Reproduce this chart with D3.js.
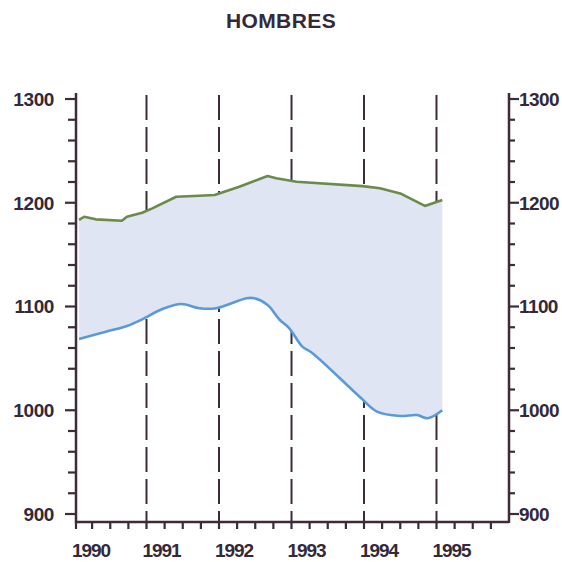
<!DOCTYPE html>
<html><head><meta charset="utf-8">
<script src="https://cdn.jsdelivr.net/npm/d3@7"></script>
<style>body{margin:0;background:#fff}svg{display:block}text{font-family:"Liberation Sans",Arial,sans-serif;font-weight:bold;fill:#33293a}</style>
</head><body><svg id="c" width="562" height="562"></svg>
<script>
const title = "HOMBRES";
const yearTicks = [1990, 1991, 1992, 1993, 1994, 1995];
const dashedYears = [1991, 1992, 1993, 1994, 1995];
const yTicks = [900, 1000, 1100, 1200, 1300];
const upperYears = [1990.07,1990.14,1990.30,1990.66,1990.73,1990.94,1991.08,1991.41,1991.73,1991.94,1992.28,1992.67,1992.79,1993.07,1993.98,1994.22,1994.50,1994.84,1995.08];
const upperValues = [1183.4,1186.5,1184,1182.7,1186.5,1190.4,1194.6,1205.8,1206.8,1207.5,1215.5,1225.8,1223.6,1220.3,1216,1213.9,1209,1196.9,1202.6];
const lowerYears = [1990.07,1990.44,1990.73,1990.94,1991.22,1991.48,1991.73,1991.96,1992.38,1992.49,1992.67,1992.84,1992.97,1993.15,1993.29,1993.94,1994.18,1994.50,1994.73,1994.88,1995.08];
const lowerValues = [1068.7,1075.7,1081.2,1087.6,1097.6,1102.4,1098.3,1098.3,1107.9,1107.9,1101.4,1087,1079,1061.3,1055,1013,998.7,994.5,995.4,992.3,1000];

const svg = d3.select("#c");
const axisCol = "#3d2b3a";
const x = d3.scaleLinear().domain([1990, 1996]).range([74, 509]);
const y = d3.scaleLinear().domain([900, 1300]).range([514, 99]);
const xLeft = 76, xRight = 509, yBase = 522, yTop = 93;

svg.append("text").attr("x", 281).attr("y", 28).attr("text-anchor", "middle")
  .style("font-size", "21px").style("letter-spacing", "0.4px").text(title);

// dashed year lines
svg.selectAll("line.dash").data(dashedYears).enter().append("line")
  .attr("x1", d => x(d)).attr("x2", d => x(d)).attr("y1", 95).attr("y2", yBase)
  .attr("stroke", axisCol).attr("stroke-width", 2).attr("stroke-dasharray", "25,7");

const upper = upperYears.map((d, i) => [d, upperValues[i]]);
const lower = lowerYears.map((d, i) => [d, lowerValues[i]]);
const line = d3.line().x(d => x(d[0])).y(d => y(d[1]));
const sline = d3.line().x(d => x(d[0])).y(d => y(d[1])).curve(d3.curveCatmullRom.alpha(0.5));
const fillPath = line(upper) + "L" + sline(lower.slice().reverse()).slice(1) + "Z";
svg.append("path").attr("d", fillPath).attr("fill", "#dfe5f3").attr("stroke", "none");
svg.append("path").attr("d", line(upper)).attr("fill", "none").attr("stroke", "#6c8a4a").attr("stroke-width", 2.6).attr("stroke-linejoin", "round");
svg.append("path").attr("d", sline(lower)).attr("fill", "none").attr("stroke", "#5a9ad8").attr("stroke-width", 2.6).attr("stroke-linejoin", "round");

// left axis
const yMinor = d3.range(900, 1301, 20);
const gl = svg.append("g").attr("transform", `translate(${xLeft},0)`);
gl.append("line").attr("x1", 0).attr("x2", 0).attr("y1", yTop).attr("y2", yBase + 1).attr("stroke", axisCol).attr("stroke-width", 2.5);
gl.selectAll("line.t").data(yMinor).enter().append("line")
  .attr("x1", d => d % 100 === 0 ? -11 : -8).attr("x2", 0)
  .attr("y1", d => y(d)).attr("y2", d => y(d)).attr("stroke", axisCol).attr("stroke-width", 2.2);
gl.selectAll("text").data(yTicks).enter().append("text")
  .attr("x", -22).attr("y", d => y(d)).attr("dy", "0.36em").attr("text-anchor", "end")
  .style("font-size", "19px").style("letter-spacing", "-0.4px").text(d => d);

// right axis
const gr = svg.append("g").attr("transform", `translate(${xRight},0)`);
gr.append("line").attr("x1", 0).attr("x2", 0).attr("y1", yTop).attr("y2", yBase + 1).attr("stroke", axisCol).attr("stroke-width", 2.5);
gr.selectAll("line.t").data(yMinor).enter().append("line")
  .attr("x1", 0).attr("x2", d => d % 100 === 0 ? 10 : 6)
  .attr("y1", d => y(d)).attr("y2", d => y(d)).attr("stroke", axisCol).attr("stroke-width", 2.2);
gr.selectAll("text").data(yTicks).enter().append("text")
  .attr("x", 10).attr("y", d => y(d)).attr("dy", "0.36em").attr("text-anchor", "start")
  .style("font-size", "19px").style("letter-spacing", "-0.6px").text(d => d);

// bottom axis
const xMinor = d3.range(0, 24).map(i => 1990 + i / 4);
svg.append("line").attr("x1", xLeft).attr("x2", xRight).attr("y1", yBase).attr("y2", yBase).attr("stroke", axisCol).attr("stroke-width", 2.5);
svg.selectAll("line.xt").data(xMinor).enter().append("line")
  .attr("x1", d => d === 1990 ? xLeft : x(d)).attr("x2", d => d === 1990 ? xLeft : x(d))
  .attr("y1", yBase).attr("y2", yBase + 7).attr("stroke", axisCol).attr("stroke-width", 2.2);
svg.selectAll("text.xl").data(yearTicks).enter().append("text")
  .attr("x", d => (d === 1990 ? xLeft : x(d)) - 4).attr("y", 557).attr("text-anchor", "start")
  .style("font-size", "19px").style("letter-spacing", "-1.1px").text(d => d);
</script></body></html>
